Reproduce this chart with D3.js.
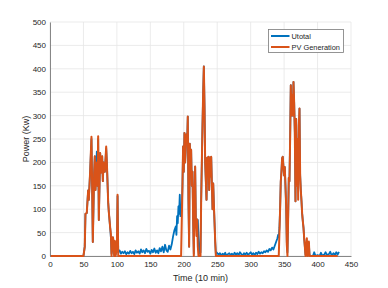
<!DOCTYPE html>
<html>
<head>
<meta charset="utf-8">
<script src="https://cdn.jsdelivr.net/npm/d3@7"></script>
<style>
  body { margin: 0; background: #fff; }
  text { font-family: 'Liberation Sans', Arial, Helvetica, sans-serif; fill: #262626; }
</style>
</head>
<body>
<svg id="chart" width="388" height="288"></svg>
<script>
'use strict'

// PV generation, sampled where the trace turns
var pvTime = [1, 50, 52, 53, 55, 57, 58, 60, 62, 63, 64, 66, 67, 68, 70, 71, 72, 73, 75, 76, 78, 79, 80, 82, 84, 85, 87, 88, 90, 91, 92, 94, 95, 96, 97, 98, 100, 101, 102,
  196, 198, 199, 200, 201, 202, 204, 205, 206, 207, 208, 209, 210, 211, 212, 213, 214, 215, 216, 217, 218, 219, 220, 221, 222,
  225, 226, 227, 228, 229, 230, 231, 232, 233, 234, 235, 236, 237, 238, 239, 240, 241, 242, 243, 244, 245, 246, 247, 248,
  342, 344, 345, 346, 347, 348, 349, 350, 351, 352, 353, 354, 355, 356, 357, 358, 359, 360, 361, 362, 363, 364, 365, 366, 367, 368, 369, 370, 371, 372, 373, 374, 375, 376, 377, 378, 379, 380, 381, 382, 383, 384, 385, 386, 387, 388, 430]
var pvPower = [0, 0, 20, 90, 92, 140, 120, 180, 255, 150, 30, 178, 213, 141, 200, 150, 256, 77, 220, 178, 213, 160, 200, 180, 234, 200, 114, 93, 60, 48, 0, 40, 32, 0, 32, 0, 20, 131, 0,
  0, 150, 234, 180, 263, 200, 260, 240, 298, 120, 20, 240, 200, 227, 150, 180, 78, 0, 120, 191, 80, 43, 78, 20, 0,
  0, 120, 200, 280, 350, 405, 320, 200, 160, 120, 210, 180, 212, 141, 210, 170, 212, 155, 100, 155, 110, 71, 30, 0,
  0, 100, 159, 180, 209, 212, 190, 172, 190, 151, 110, 24, 0, 80, 167, 160, 250, 365, 300, 344, 300, 372, 329, 265, 117, 293, 150, 250, 120, 279, 315, 172, 140, 117, 90, 74, 60, 38, 20, 0, 20, 38, 0, 20, 31, 0, 0]

// Utotal
var uTime = [1, 50, 52, 53, 55, 57, 58, 60, 62, 63, 64, 66, 67, 68, 69, 70, 71, 72, 73, 75, 76, 78, 79, 80, 82, 84, 85, 87, 88, 90, 91, 92, 93, 94, 95, 96, 97, 98, 100, 101, 102,
  104, 106, 108, 110, 112, 114, 116, 118, 120, 122, 124, 126, 128, 130, 132, 134, 136, 138, 140, 142, 144, 146, 148, 150, 152, 154, 156, 158, 160, 162, 164, 166, 168, 170, 172, 174, 176, 178, 180, 182,
  184, 186, 188, 189, 190, 191, 192, 193, 194, 195, 196, 197, 198, 199, 200, 201, 202, 204, 205, 206, 207, 208, 209, 210, 211, 212, 213, 214, 215, 216, 217, 218, 219, 220, 221, 222, 223, 224, 225,
  226, 227, 228, 229, 230, 231, 232, 233, 234, 235, 236, 237, 238, 239, 240, 241, 242, 243, 244, 245, 246, 247, 248, 249,
  252, 254, 256, 258, 260, 262, 264, 266, 268, 270, 272, 274, 276, 278, 280, 282, 284, 286, 288, 290, 292, 294, 296, 298, 300, 302, 304, 306, 308, 310, 312, 314, 316, 318,
  320, 322, 324, 326, 328, 330, 332, 334, 336, 338, 340, 341, 342, 343,
  344, 345, 346, 347, 348, 349, 350, 351, 352, 353, 354, 355, 356, 357, 358, 359, 360, 361, 362, 363, 364, 365, 366, 367, 368, 369, 370, 371, 372, 373, 374, 375, 376, 377, 378, 379, 380, 381, 382,
  384, 385, 386, 387, 388, 390, 393, 395, 397, 400, 403, 405, 407, 410, 412, 414, 417, 419, 421, 424, 426, 428, 430, 432]
var uPower = [0, 0, 20, 90, 92, 140, 120, 180, 250, 150, 30, 178, 213, 141, 190, 223, 150, 250, 77, 220, 178, 213, 160, 200, 180, 230, 200, 114, 93, 60, 40, 5, 12, 40, 30, 2, 30, 3, 18, 128, 8,
  12, 5, 9, 6, 10, 4, 8, 5, 11, 6, 9, 4, 12, 7, 10, 5, 14, 8, 12, 6, 15, 9, 11, 5, 13, 8, 16, 7, 12, 6, 17, 10, 20, 8, 24, 12, 9, 22, 14, 25,
  42, 55, 63, 45, 85, 70, 106, 90, 131, 85, 110, 100, 150, 234, 180, 263, 200, 260, 240, 298, 120, 20, 240, 200, 227, 150, 180, 78, 5, 120, 191, 80, 60, 78, 77, 40, 10, 5, 8,
  120, 200, 280, 350, 405, 320, 200, 160, 120, 210, 180, 212, 141, 210, 170, 212, 155, 100, 155, 110, 71, 30, 4, 8,
  3, 6, 1, 5, 2, 7, 0, 4, 6, 2, 5, 1, 7, 3, 6, 2, 8, 4, 1, 6, 3, 7, 2, 5, 8, 3, 6, 2, 7, 4, 9, 5, 8, 6,
  10, 8, 12, 9, 15, 12, 18, 14, 22, 30, 38, 45, 40, 60,
  100, 159, 180, 209, 212, 190, 172, 190, 151, 110, 30, 8, 80, 167, 160, 250, 365, 300, 344, 300, 372, 329, 265, 117, 293, 227, 200, 160, 225, 315, 172, 140, 117, 90, 74, 60, 38, 20, 3,
  30, 5, 20, 28, 2, 0, 0, 8, 0, 2, 0, 7, 1, 3, 8, 2, 4, 9, 1, 6, 2, 8, 3, 9]

var xTicks = [0, 50, 100, 150, 200, 250, 300, 350, 400, 450]
var yTicks = [0, 50, 100, 150, 200, 250, 300, 350, 400, 450, 500]
var seriesNames = ['Utotal', 'PV Generation']
var seriesColors = ['#0072BD', '#D95319']

var margin = { top: 22, right: 37, bottom: 32, left: 50 }
var svg = d3.select('#chart')
var width = 388 - margin.left - margin.right
var height = 288 - margin.top - margin.bottom

var x = d3.scaleLinear().domain([0, 450]).range([0, width])
var y = d3.scaleLinear().domain([0, 500]).range([height, 0])

var g = svg.append('g')
  .attr('transform', 'translate(' + margin.left + ',' + margin.top + ')')

// grid
g.append('g')
  .selectAll('line')
  .data(xTicks)
  .enter()
  .append('line')
  .attr('x1', function (d) { return x(d) })
  .attr('x2', function (d) { return x(d) })
  .attr('y1', 0)
  .attr('y2', height)
  .attr('stroke', '#e6e6e6')
  .attr('stroke-width', 0.8)
g.append('g')
  .selectAll('line')
  .data(yTicks)
  .enter()
  .append('line')
  .attr('x1', 0)
  .attr('x2', width)
  .attr('y1', function (d) { return y(d) })
  .attr('y2', function (d) { return y(d) })
  .attr('stroke', '#e6e6e6')
  .attr('stroke-width', 0.8)

// axes
var xAxis = g.append('g')
  .attr('transform', 'translate(0,' + height + ')')
  .call(d3.axisBottom(x).tickValues(xTicks).tickSize(0).tickPadding(5))
var yAxis = g.append('g')
  .call(d3.axisLeft(y).tickValues(yTicks).tickSize(0).tickPadding(4))
;[xAxis, yAxis].forEach(function (a) {
  a.select('.domain').attr('stroke', '#6b6b6b').attr('stroke-width', 0.8)
  a.selectAll('text')
    .style('font-size', '8px')
    .style('font-family', "'Liberation Sans', Arial, sans-serif")
    .attr('fill', '#262626')
})

// lines
var line = d3.line()
  .x(function (d) { return x(d[0]) })
  .y(function (d) { return y(d[1]) })
var uData = uTime.map(function (t, i) { return [t, uPower[i]] })
var pvData = pvTime.map(function (t, i) { return [t, pvPower[i]] })
g.append('path')
  .datum(uData)
  .attr('d', line)
  .attr('fill', 'none')
  .attr('stroke', seriesColors[0])
  .attr('stroke-width', 1.8)
  .attr('stroke-linejoin', 'round')
g.append('path')
  .datum(pvData)
  .attr('d', line)
  .attr('fill', 'none')
  .attr('stroke', seriesColors[1])
  .attr('stroke-width', 2)
  .attr('stroke-linejoin', 'round')

// axis labels
svg.append('text')
  .attr('x', margin.left + width / 2)
  .attr('y', 281)
  .attr('text-anchor', 'middle')
  .style('font-size', '9px')
  .text('Time (10 min)')
svg.append('text')
  .attr('transform', 'translate(29,' + (margin.top + height / 2) + ') rotate(-90)')
  .attr('text-anchor', 'middle')
  .style('font-size', '9px')
  .text('Power (Kw)')

// legend
var legend = svg.append('g')
  .attr('transform', 'translate(268.5,29.5)')
legend.append('rect')
  .attr('width', 75)
  .attr('height', 23)
  .attr('fill', '#fff')
  .attr('stroke', '#7a7a7a')
  .attr('stroke-width', 0.8)
var items = legend.selectAll('.legend-item')
  .data(seriesNames)
  .enter()
  .append('g')
  .attr('class', 'legend-item')
  .attr('transform', function (d, i) { return 'translate(0,' + (6.5 + i * 11) + ')' })
items.append('line')
  .attr('x1', 2.5)
  .attr('x2', 21)
  .attr('stroke', function (d, i) { return seriesColors[i] })
  .attr('stroke-width', 2)
items.append('text')
  .attr('x', 23)
  .attr('y', 2.6)
  .style('font-size', '7.4px')
  .text(function (d) { return d })
</script>
</body>
</html>
